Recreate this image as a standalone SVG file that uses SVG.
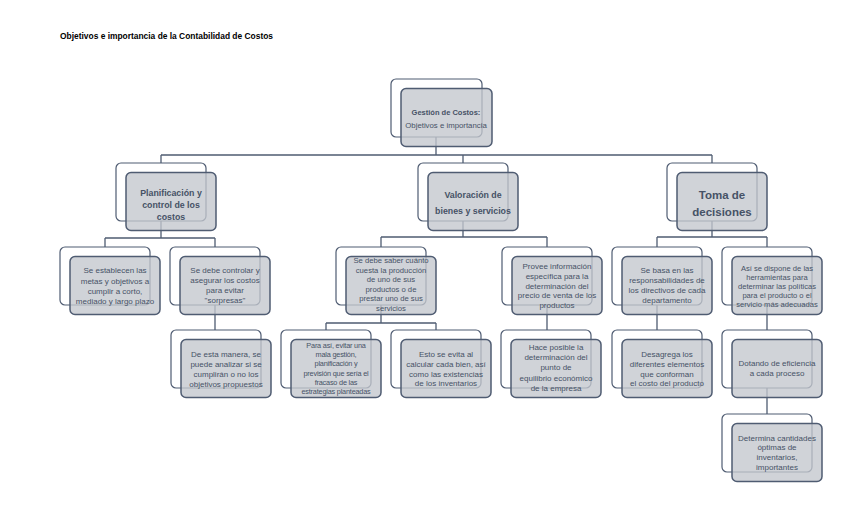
<svg xmlns="http://www.w3.org/2000/svg" width="848" height="515" viewBox="0 0 848 515">
<style>
.bg{fill:#ffffff}
.back{fill:#ffffff;stroke:#4f5c72;stroke-width:1.2}
.front{fill:#c3c7cd;fill-opacity:0.78;stroke:#4f5c72;stroke-width:1.5}
.con{fill:none;stroke:#4f5c72;stroke-width:1.3}
text{font-family:"Liberation Sans",Arial,sans-serif;fill:#465266;text-anchor:middle}
.t{font-size:8px}
.title{font-size:8.5px;font-weight:bold;fill:#000;text-anchor:start}
</style>
<defs>
<g id="box">
<rect class="back" x="0" y="0" width="90" height="58" rx="5"/>
<rect class="front" x="10" y="9.5" width="90" height="58" rx="5"/>
</g>
</defs>
<rect class="bg" x="0" y="0" width="848" height="515"/>
<text class="title" x="60" y="39" textLength="213" lengthAdjust="spacingAndGlyphs">Objetivos e importancia de la Contabilidad de Costos</text>

<g id="connectors">
<path class="con" d="M436,137V155M161,155H712M161,155V163M463,155V163M712,155V163"/>
<path class="con" d="M161,221V238M105,238H215M105,238V247M215,238V247M215,305V330"/>
<path class="con" d="M463,221V237M381,237H547M381,237V247M547,237V247M381,305V323M326,323H436M326,323V330M436,323V330M547,305V330"/>
<path class="con" d="M712,221V237M657,237H767M657,237V247M767,237V247M657,305V330M767,305V330M767,388V414"/>
</g>

<g id="n-top">
<rect class="back" x="391" y="79" width="91" height="58" rx="5"/>
<rect class="front" x="401" y="88.5" width="91" height="58" rx="5"/>
<text x="446" y="115" style="font-size:7.5px;font-weight:bold">Gestión de Costos:</text>
<text x="446" y="128" style="font-size:7.8px">Objetivos e importancia</text>
</g>

<g id="n-plan">
<use href="#box" x="116" y="163"/>
<text x="171" y="196" style="font-size:8.8px;font-weight:bold">Planificación y</text>
<text x="171" y="208" style="font-size:8.8px;font-weight:bold">control de los</text>
<text x="171" y="220" style="font-size:8.8px;font-weight:bold">costos</text>
</g>

<g id="n-val">
<use href="#box" x="418" y="163"/>
<text x="473" y="198" style="font-size:8.8px;font-weight:bold">Valoración de</text>
<text x="473" y="214" style="font-size:8.8px;font-weight:bold">bienes y servicios</text>
</g>

<g id="n-toma">
<use href="#box" x="667" y="163"/>
<text x="722" y="199" style="font-size:11.5px;font-weight:bold">Toma de</text>
<text x="722" y="216" style="font-size:11.5px;font-weight:bold">decisiones</text>
</g>

<g id="n-a">
<use href="#box" x="60" y="247"/>
<text class="t" x="115" y="273">Se establecen las</text>
<text class="t" x="115" y="284">metas y objetivos a</text>
<text class="t" x="115" y="294">cumplir a corto,</text>
<text class="t" x="115" y="304">mediado y largo plazo</text>
</g>

<g id="n-b">
<use href="#box" x="170" y="247"/>
<text class="t" x="225" y="273">Se debe controlar y</text>
<text class="t" x="225" y="283">asegurar los costos</text>
<text class="t" x="225" y="293">para evitar</text>
<text class="t" x="225" y="303">"sorpresas"</text>
</g>

<g id="n-c">
<use href="#box" x="171" y="330"/>
<text class="t" x="226" y="357">De esta manera, se</text>
<text class="t" x="226" y="367">puede analizar si se</text>
<text class="t" x="226" y="377">cumplirán o no los</text>
<text class="t" x="226" y="387">objetivos propuestos</text>
</g>

<g id="n-d">
<use href="#box" x="336" y="247"/>
<text x="391" y="263" style="font-size:7.7px">Se debe saber cuánto</text>
<text x="391" y="273" style="font-size:7.7px">cuesta la producción</text>
<text x="391" y="282" style="font-size:7.7px">de uno de sus</text>
<text x="391" y="292" style="font-size:7.7px">productos o de</text>
<text x="391" y="301" style="font-size:7.7px">prestar uno de sus</text>
<text x="391" y="311" style="font-size:7.7px">servicios</text>
</g>

<g id="n-e">
<use href="#box" x="502" y="247"/>
<text class="t" x="557" y="269">Provee información</text>
<text class="t" x="557" y="279">específica para la</text>
<text class="t" x="557" y="289">determinación del</text>
<text class="t" x="557" y="298">precio de venta de los</text>
<text class="t" x="557" y="308">productos</text>
</g>

<g id="n-f">
<use href="#box" x="281" y="330"/>
<text x="336" y="348" style="font-size:7.3px;letter-spacing:-0.2px">Para así, evitar una</text>
<text x="336" y="357" style="font-size:7.3px;letter-spacing:-0.2px">mala gestión,</text>
<text x="336" y="366" style="font-size:7.3px;letter-spacing:-0.2px">planificación y</text>
<text x="336" y="376" style="font-size:7.3px;letter-spacing:-0.2px">previsión que sería el</text>
<text x="336" y="385" style="font-size:7.3px;letter-spacing:-0.2px">fracaso de las</text>
<text x="336" y="394" style="font-size:7.3px;letter-spacing:-0.2px">estrategias planteadas</text>
</g>

<g id="n-g">
<use href="#box" x="391" y="330"/>
<text class="t" x="446" y="357">Esto se evita al</text>
<text class="t" x="446" y="367">calcular cada bien, así</text>
<text class="t" x="446" y="377">como las existencias</text>
<text class="t" x="446" y="386">de los inventarios</text>
</g>

<g id="n-h">
<use href="#box" x="501" y="330"/>
<text class="t" x="556" y="350">Hace posible la</text>
<text class="t" x="556" y="360">determinación del</text>
<text class="t" x="556" y="370">punto de</text>
<text class="t" x="556" y="381">equilibrio económico</text>
<text class="t" x="556" y="391">de la empresa</text>
</g>

<g id="n-i">
<use href="#box" x="612" y="247"/>
<text class="t" x="667" y="273">Se basa en las</text>
<text class="t" x="667" y="283">responsabilidades de</text>
<text class="t" x="667" y="293">los directivos de cada</text>
<text class="t" x="667" y="303">departamento</text>
</g>

<g id="n-j">
<use href="#box" x="722" y="247"/>
<text x="777" y="271" style="font-size:7.6px">Así se dispone de las</text>
<text x="777" y="280" style="font-size:7.6px">herramientas para</text>
<text x="777" y="289" style="font-size:7.6px">determinar las políticas</text>
<text x="777" y="298" style="font-size:7.6px">para el producto o el</text>
<text x="777" y="307" style="font-size:7.6px">servicio más adecuadas</text>
</g>

<g id="n-k">
<use href="#box" x="612" y="330"/>
<text class="t" x="667" y="357">Desagrega los</text>
<text class="t" x="667" y="367">diferentes elementos</text>
<text class="t" x="667" y="377">que conforman</text>
<text class="t" x="667" y="386">el costo del producto</text>
</g>

<g id="n-l">
<use href="#box" x="722" y="330"/>
<text class="t" x="777" y="366">Dotando de eficiencia</text>
<text class="t" x="777" y="376">a cada proceso</text>
</g>

<g id="n-m">
<use href="#box" x="722" y="414"/>
<text class="t" x="777" y="441">Determina cantidades</text>
<text class="t" x="777" y="450">óptimas de</text>
<text class="t" x="777" y="460">inventarios,</text>
<text class="t" x="777" y="470">importantes</text>
</g>
</svg>
